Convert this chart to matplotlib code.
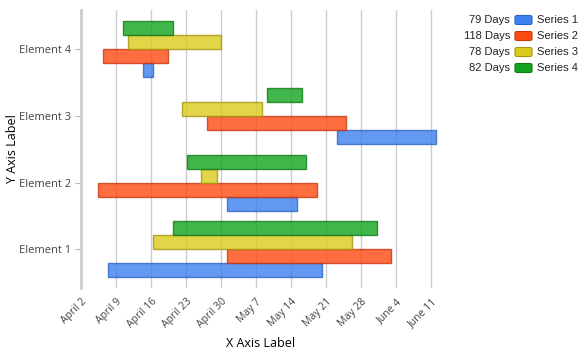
import matplotlib
matplotlib.use('Agg')
import matplotlib.pyplot as plt
from matplotlib.patches import FancyBboxPatch

# days counted from April 2
elements = ['Element 1', 'Element 2', 'Element 3', 'Element 4']
series_names = ['Series 1', 'Series 2', 'Series 3', 'Series 4']
series_totals = ['79 Days', '118 Days', '78 Days', '82 Days']

s1_start = [5.3, 29.1, 51.1, 12.3]
s1_len = [42.8, 14.0, 19.8, 2.0]
s2_start = [29.1, 3.3, 25.1, 4.3]
s2_len = [32.8, 43.8, 27.8, 13.0]
s3_start = [14.3, 24.0, 20.1, 9.3]
s3_len = [39.8, 3.1, 16.0, 18.7]
s4_start = [18.3, 21.1, 37.1, 8.3]
s4_len = [40.8, 23.8, 7.0, 10.0]

tick_days = [0, 7, 14, 21, 28, 35, 42, 49, 56, 63, 70]
tick_labels = ['April 2', 'April 9', 'April 16', 'April 23', 'April 30',
               'May 7', 'May 14', 'May 21', 'May 28', 'June 4', 'June 11']

colors = ['#3d80ef', '#ff4a12', '#dccb1a', '#12a41e']
edges = ['#2a62c6', '#c8350e', '#a29610', '#0e7a14']

starts = [s1_start, s2_start, s3_start, s4_start]
lengths = [s1_len, s2_len, s3_len, s4_len]
offsets = [-0.315, -0.105, 0.105, 0.315]

fig = plt.figure(figsize=(5.85, 3.56), dpi=100)
ax = fig.add_axes([81 / 585, 1 - 288 / 356, 360 / 585, 278 / 356])

ypos = [1, 2, 3, 4]
for i in range(4):
    ax.barh([y + offsets[i] for y in ypos], lengths[i], left=starts[i],
            height=0.21, color=colors[i], alpha=0.8, edgecolor=edges[i],
            linewidth=1, zorder=3)

ax.set_xlim(0, 72)
ax.set_ylim(0.42, 4.59)
ax.set_yticks(ypos)
ax.set_yticklabels(elements, fontsize=8, family='Open Sans', color='#444444')
ax.set_xticks(tick_days)
ax.set_xticklabels(tick_labels, rotation=45, ha='right', rotation_mode='anchor',
                   fontsize=7.5, family='Open Sans', color='#444444')
ax.tick_params(axis='x', length=0, pad=6)
ax.tick_params(axis='y', length=4, color='#bbbbbb', pad=3)
ax.grid(axis='x', color='#cccccc', linewidth=1, zorder=0)
for side in ['top', 'right', 'bottom']:
    ax.spines[side].set_visible(False)
ax.spines['left'].set_color('#cccccc')
ax.spines['left'].set_linewidth(2)
ax.spines['left'].set_zorder(4)

ax.set_xlabel('X Axis Label', fontsize=9, family='Open Sans', labelpad=5)
ax.set_ylabel('Y Axis Label', fontsize=9, family='Open Sans', labelpad=0)

# legend on the right: totals, swatch, series name
for i in range(4):
    yc = 1 - (20 + 16 * i) / 356
    fig.text(510 / 585, yc, series_totals[i], ha='right', va='center',
             fontsize=8, family='Liberation Sans', color='#222222')
    sw = FancyBboxPatch((515 / 585, yc - 4.5 / 356), 17 / 585, 9 / 356,
                        boxstyle='round,pad=0,rounding_size=0.004',
                        transform=fig.transFigure, facecolor=colors[i],
                        edgecolor=edges[i], linewidth=0.8)
    fig.patches.append(sw)
    fig.text(537 / 585, yc, series_names[i], ha='left', va='center',
             fontsize=8, family='Liberation Sans', color='#222222')

fig.savefig('out.png', dpi=100)
